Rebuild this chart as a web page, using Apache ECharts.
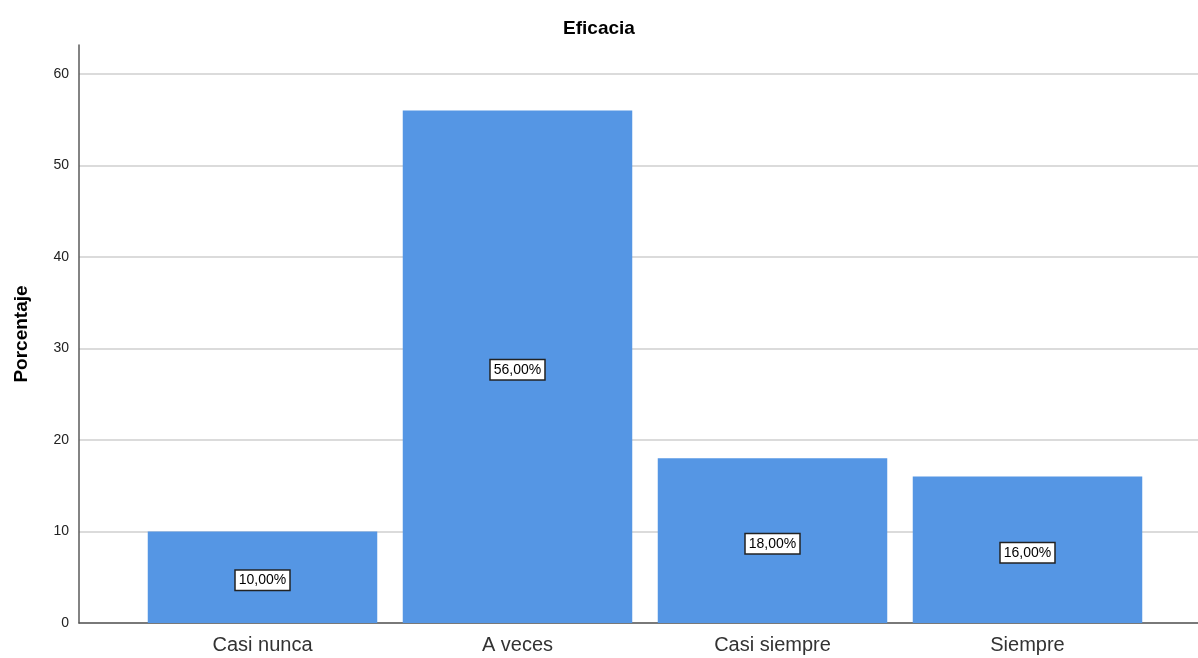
<!DOCTYPE html>
<html>
<head>
<meta charset="utf-8">
<script src="https://cdn.jsdelivr.net/npm/echarts@6/dist/echarts.min.js"></script>
<style>
  html, body { margin: 0; padding: 0; background: #ffffff; }
  #chart { width: 1198px; height: 658px; }
</style>
</head>
<body>
<div id="chart"></div>
<script>
// Eficacia: porcentaje de respuestas por categoría
const categories = ['Casi nunca', 'A veces', 'Casi siempre', 'Siempre'];
const percentages = [10, 56, 18, 16];
const yTicks = [0, 10, 20, 30, 40, 50, 60];

const FONT = '"Liberation Sans", Arial, sans-serif';
const chart = echarts.init(document.getElementById('chart'));

const yMax = yTicks[yTicks.length - 1];

chart.setOption({
  animation: false,
  backgroundColor: '#ffffff',
  title: {
    text: 'Eficacia',
    left: 'center',
    top: 14,
    textStyle: { fontFamily: FONT, fontSize: 19, fontWeight: 'bold', color: '#000' }
  },
  grid: [
    // frame: gridlines, tick labels and baseline
    { left: 79, right: 0, top: 74, bottom: 35, outerBoundsMode: 'none' },
    // bars
    { left: 135, right: 43, top: 74, bottom: 35, outerBoundsMode: 'none' },
    // vertical axis line, extending above the last tick
    { left: 79, right: 0, top: 45, bottom: 35, outerBoundsMode: 'none' }
  ],
  xAxis: [
    {
      gridIndex: 0, type: 'value', min: 0, max: 1,
      axisLine: { show: true, lineStyle: { color: '#5a5a5a', width: 1.5 } },
      axisTick: { show: false }, axisLabel: { show: false }, splitLine: { show: false }
    },
    {
      gridIndex: 1, type: 'category', data: categories,
      axisLine: { show: false }, axisTick: { show: false },
      axisLabel: { fontFamily: FONT, fontSize: 20, color: '#333', margin: 12 }
    },
    {
      gridIndex: 2, type: 'value', min: 0, max: 1, show: false
    }
  ],
  yAxis: [
    {
      gridIndex: 0, type: 'value', min: 0, max: yMax, interval: 10,
      axisLine: { show: false }, axisTick: { show: false },
      axisLabel: { fontFamily: FONT, fontSize: 14, color: '#222', margin: 10 },
      splitLine: { show: true, lineStyle: { color: '#cfcfcf', width: 1.5 } }
    },
    {
      gridIndex: 1, type: 'value', min: 0, max: yMax, show: false
    },
    {
      gridIndex: 2, type: 'value', min: 0, max: 1,
      name: 'Porcentaje', nameLocation: 'middle', nameGap: 48, nameRotate: 90,
      nameTextStyle: { fontFamily: FONT, fontSize: 19, fontWeight: 'bold', color: '#000' },
      axisLine: { show: true, lineStyle: { color: '#5a5a5a', width: 1.5 } },
      axisTick: { show: false }, axisLabel: { show: false }, splitLine: { show: false }
    }
  ],
  series: [
    {
      type: 'bar',
      xAxisIndex: 1, yAxisIndex: 1,
      data: percentages,
      barCategoryGap: '10%',
      itemStyle: { color: '#5596e4' },
      label: {
        show: true,
        position: 'inside',
        offset: [0, 3],
        formatter: p => p.value.toFixed(2).replace('.', ',') + '%',
        fontFamily: FONT, fontSize: 14, color: '#000',
        backgroundColor: '#ffffff',
        borderColor: '#222', borderWidth: 1.5,
        padding: [3, 3, 2, 3]
      }
    }
  ]
});
</script>
</body>
</html>
